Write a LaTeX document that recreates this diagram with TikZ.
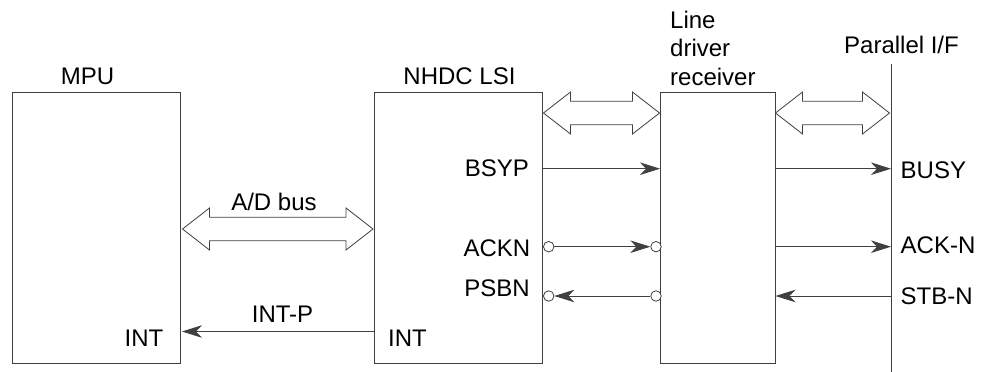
\documentclass[tikz,border=0pt]{standalone}
\usepackage{fontspec}
\setmainfont{Liberation Sans}
\usetikzlibrary{arrows.meta}
\definecolor{ln}{HTML}{404040}
\tikzset{
  blk/.style={draw=ln, line width=0.9pt, inner sep=0pt, fill=none},
  lbl/.style={inner sep=0pt, font=\fontsize{24}{28}\selectfont},
  sig/.style={draw=ln, line width=0.8pt, -{Stealth[length=20pt,width=12.5pt,inset=6pt]}},
  bub/.style={circle, draw=ln, line width=0.8pt, fill=white, inner sep=0pt, minimum size=10.5pt},
  fat/.style={draw=ln, line width=0.8pt, line join=miter, fill=white}
}
\newcommand{\mydbl}[3]{%
  \path[fat] (#1,#3) -- ({#1+27},{#3-21}) -- ({#1+27},{#3-11.7}) -- ({#2-27},{#3-11.7}) -- ({#2-27},{#3-21}) -- (#2,#3) -- ({#2-27},{#3+21}) -- ({#2-27},{#3+11.7}) -- ({#1+27},{#3+11.7}) -- ({#1+27},{#3+21}) -- cycle;}
\begin{document}
\begin{tikzpicture}[x=1pt,y=-1pt]
\useasboundingbox (0,0) rectangle (983,372);
% boxes
\node[blk, minimum width=168pt, minimum height=271pt] (mpu) at (96,228) {};
\node[blk, minimum width=168.5pt, minimum height=271pt] (nhdc) at (458.25,228) {};
\node[blk, minimum width=114.5pt, minimum height=271pt] (ld) at (717.75,228) {};
\coordinate (pt) at (891,64);
\coordinate (pb) at (891,372);
\draw[ln, line width=0.9pt] (pt) -- (pb);
% titles
\node[lbl, anchor=base] (tmpu) at (87.5,84.3) {MPU};
\node[lbl, anchor=base] (tnhdc) at (459.5,84.3) {NHDC LSI};
\node[lbl, anchor=base west] (tld1) at (670,28.3) {Line};
\node[lbl, anchor=base west] (tld2) at (670,56.7) {driver};
\node[lbl, anchor=base west] (tld3) at (670,85) {receiver};
\node[lbl, anchor=base] (tpif) at (901.5,53.3) {Parallel I/F};
% fat bus arrows
\mydbl{543.5}{659.5}{113}
\mydbl{775.5}{889.5}{113}
\mydbl{182.5}{373}{229}
\node[lbl, anchor=base] (tad) at (274,210) {A/D bus};
% pin labels
\node[lbl, anchor=base east] (bsyp) at (529,176.5) {BSYP};
\node[lbl, anchor=base east] (ackn) at (530.5,256.5) {ACKN};
\node[lbl, anchor=base east] (psbn) at (530,296.5) {PSBN};
\node[lbl, anchor=base west] (intn) at (388,346.5) {INT};
\node[lbl, anchor=base east] (intm) at (163.5,346.5) {INT};
\node[lbl, anchor=base west] (busy) at (900.5,178.3) {BUSY};
\node[lbl, anchor=base west] (ackpn) at (900.5,253.3) {ACK-N};
\node[lbl, anchor=base west] (stbn) at (900.5,304) {STB-N};
\node[lbl, anchor=base] (tintp) at (282.5,322.5) {INT-P};
% bubbles
\node[bub] (b1) at (548.7,246.7) {};
\node[bub] (b2) at (656,246.7) {};
\node[bub] (b3) at (548.7,296) {};
\node[bub] (b4) at (656,296) {};
% signals
\draw[sig] (nhdc.east|-0,168.7) -- (ld.west|-0,168.7);
\draw[sig] (ld.east|-0,168.7) -- (pt|-0,168.7);
\draw[sig] (b1) -- (b2);
\draw[sig] (ld.east|-0,246.7) -- (pt|-0,246.7);
\draw[sig] (b4) -- (b3);
\draw[sig] (pt|-0,296) -- (ld.east|-0,296);
\draw[sig] (nhdc.west|-0,331.5) -- ([xshift=1.5pt]mpu.east|-0,331.5);
\end{tikzpicture}
\end{document}
